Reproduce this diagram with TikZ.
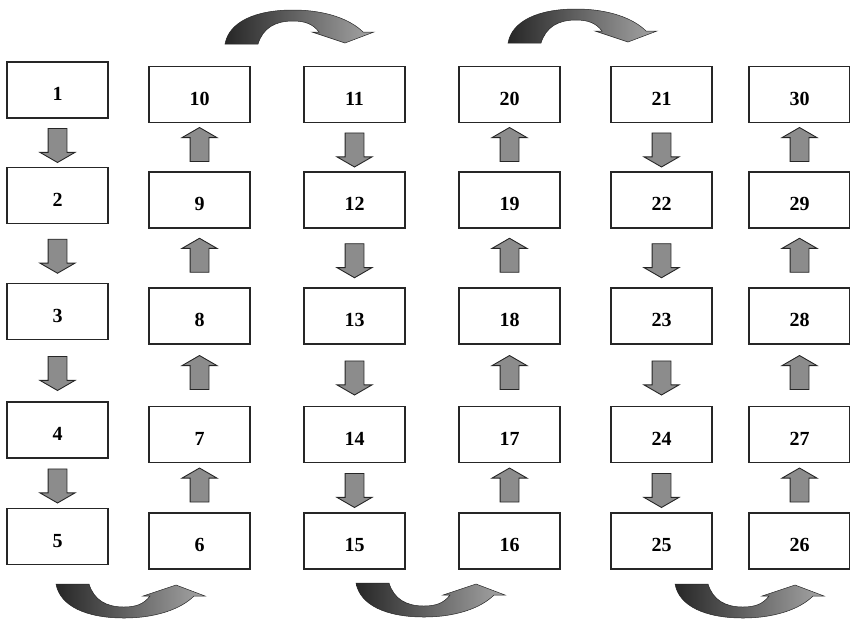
\documentclass[tikz,border=0pt]{standalone}
\usepackage{fontspec}
\setmainfont{Liberation Serif}
\usetikzlibrary{shapes.arrows, math}

\begin{document}
\begin{tikzpicture}[x=1pt, y=-1pt,
cell/.style={draw=black!85, line width=1.1pt, fill=white, minimum width=101pt, minimum height=56pt, inner sep=0pt, font=\fontsize{20}{24}\selectfont\bfseries, text height=21pt, text depth=0pt},
blk/.style={single arrow, draw=black!85, line width=0.9pt, fill=black!45, minimum height=34pt, minimum width=34pt, single arrow head extend=8pt, single arrow tip angle=120, single arrow head indent=0pt, inner xsep=0pt, inner ysep=9pt, sloped, allow upside down},
curved/.style={draw=black!85, line width=0.5pt, left color=black!85, right color=black!35},
pics/bend/.style={code={
\path[curved] (0,0) .. controls (4,-22) and (30,-34) .. (68,-34)
 .. controls (100,-34) and (125,-25) .. (138,-12)
 -- (149,-12) -- (120,-1) -- (87,-12) -- (94,-12)
 .. controls (88,-20) and (80,-23) .. (68,-23)
 .. controls (50,-23) and (38,-16) .. (33,0) -- cycle;
}}]

\useasboundingbox (0,0) rectangle (850,622);

\tikzmath{
\colA = 57.5; \colB = 199.5; \colC = 354.5; \colD = 509.5; \colE = 661.5; \colF = 799.5;
\rowA = 94.5; \rowB = 200; \rowC = 316; \rowD = 434.5; \rowE = 541;
\up = 4.5; %column 1 sits a bit higher
}

%column 1:
\node[cell] (n1) at (\colA,\rowA-\up) {1};
\node[cell] (n2) at (\colA,\rowB-\up) {2};
\node[cell] (n3) at (\colA,\rowC-\up) {3};
\node[cell] (n4) at (\colA,\rowD-\up) {4};
\node[cell] (n5) at (\colA,\rowE-\up) {5};
%column 2:
\node[cell] (n6) at (\colB,\rowE) {6};
\node[cell] (n7) at (\colB,\rowD) {7};
\node[cell] (n8) at (\colB,\rowC) {8};
\node[cell] (n9) at (\colB,\rowB) {9};
\node[cell] (n10) at (\colB,\rowA) {10};
%column 3:
\node[cell] (n11) at (\colC,\rowA) {11};
\node[cell] (n12) at (\colC,\rowB) {12};
\node[cell] (n13) at (\colC,\rowC) {13};
\node[cell] (n14) at (\colC,\rowD) {14};
\node[cell] (n15) at (\colC,\rowE) {15};
%column 4:
\node[cell] (n16) at (\colD,\rowE) {16};
\node[cell] (n17) at (\colD,\rowD) {17};
\node[cell] (n18) at (\colD,\rowC) {18};
\node[cell] (n19) at (\colD,\rowB) {19};
\node[cell] (n20) at (\colD,\rowA) {20};
%column 5:
\node[cell] (n21) at (\colE,\rowA) {21};
\node[cell] (n22) at (\colE,\rowB) {22};
\node[cell] (n23) at (\colE,\rowC) {23};
\node[cell] (n24) at (\colE,\rowD) {24};
\node[cell] (n25) at (\colE,\rowE) {25};
%column 6:
\node[cell] (n26) at (\colF,\rowE) {26};
\node[cell] (n27) at (\colF,\rowD) {27};
\node[cell] (n28) at (\colF,\rowC) {28};
\node[cell] (n29) at (\colF,\rowB) {29};
\node[cell] (n30) at (\colF,\rowA) {30};

%straight arrows:
\path (n1) -- node[blk] {} (n2);
\path (n2) -- node[blk] {} (n3);
\path (n3) -- node[blk] {} (n4);
\path (n4) -- node[blk] {} (n5);
\path (n6) -- node[blk] {} (n7);
\path (n7) -- node[blk] {} (n8);
\path (n8) -- node[blk] {} (n9);
\path (n9) -- node[blk] {} (n10);
\path (n11) -- node[blk] {} (n12);
\path (n12) -- node[blk] {} (n13);
\path (n13) -- node[blk] {} (n14);
\path (n14) -- node[blk] {} (n15);
\path (n16) -- node[blk] {} (n17);
\path (n17) -- node[blk] {} (n18);
\path (n18) -- node[blk] {} (n19);
\path (n19) -- node[blk] {} (n20);
\path (n21) -- node[blk] {} (n22);
\path (n22) -- node[blk] {} (n23);
\path (n23) -- node[blk] {} (n24);
\path (n24) -- node[blk] {} (n25);
\path (n26) -- node[blk] {} (n27);
\path (n27) -- node[blk] {} (n28);
\path (n28) -- node[blk] {} (n29);
\path (n29) -- node[blk] {} (n30);

%curved arrows, top:
\pic at (225,44) {bend};
\pic at (508,43) {bend};
%curved arrows, bottom:
\pic[yscale=-1] at (56,584) {bend};
\pic[yscale=-1] at (356,583) {bend};
\pic[yscale=-1] at (675,584) {bend};

\end{tikzpicture}
\end{document}
